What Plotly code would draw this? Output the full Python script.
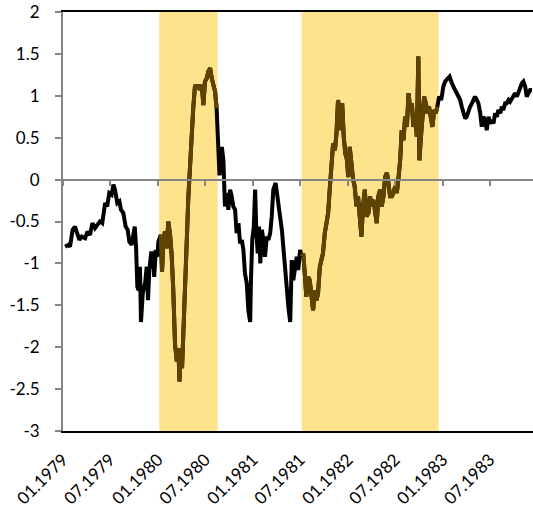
import pandas as pd
import plotly.graph_objects as go

start_date = "1979-01-01"

day_offsets = [8, 20, 27, 37, 46, 55, 63, 72, 85, 94, 104, 113, 123, 132, 142, 151, 162, 170, 178, 187,
               194, 200, 209, 217, 223, 232, 241, 249, 255, 264, 271, 276, 281, 286, 291, 296, 300, 307, 316, 322,
               327, 332, 339, 345, 351, 357, 363, 367, 376, 381, 386, 392, 399, 405, 412, 418, 424, 431, 438, 444,
               448, 453, 458, 463, 469, 476, 482, 489, 495, 501, 508, 514, 521, 527, 534, 540, 546, 553, 559, 566,
               572, 578, 585, 591, 598, 602, 611, 617, 623, 630, 636, 643, 649, 655, 662, 668, 675, 681, 688, 694,
               700, 707, 713, 720, 723, 728, 734, 739, 744, 749, 754, 759, 765, 771, 777, 784, 790, 797, 803, 809,
               818, 826, 835, 842, 848, 854, 861, 867, 874, 880, 886, 893, 899, 905, 912, 918, 924, 930, 936, 943,
               949, 955, 962, 969, 975, 981, 988, 994, 1000, 1007, 1013, 1020, 1026, 1032, 1039, 1046, 1052, 1058, 1065, 1069,
               1074, 1080, 1086, 1093, 1097, 1103, 1109, 1116, 1122, 1129, 1135, 1142, 1148, 1154, 1161, 1167, 1175, 1181, 1188, 1194,
               1201, 1207, 1213, 1220, 1226, 1233, 1239, 1246, 1252, 1258, 1265, 1271, 1278, 1284, 1290, 1297, 1303, 1310, 1316, 1323,
               1329, 1335, 1342, 1348, 1355, 1361, 1367, 1371, 1376, 1383, 1389, 1396, 1402, 1408, 1415, 1421, 1428, 1434, 1440, 1447,
               1455, 1463, 1470, 1479, 1487, 1496, 1502, 1508, 1515, 1521, 1528, 1534, 1540, 1547, 1553, 1560, 1566, 1573, 1579, 1585,
               1592, 1598, 1605, 1611, 1617, 1624, 1630, 1637, 1643, 1650, 1656, 1662, 1669, 1675, 1682, 1688, 1694, 1701, 1707, 1714,
               1720, 1727, 1733, 1739, 1746, 1752, 1759, 1765, 1771, 1778, 1784, 1791, 1797, 1804]

values = [-0.80, -0.78, -0.80, -0.60, -0.56, -0.64, -0.72, -0.68, -0.70, -0.62, -0.66, -0.52, -0.58, -0.54, -0.50, -0.52, -0.28, -0.32, -0.16, -0.18,
          -0.06, -0.12, -0.28, -0.26, -0.36, -0.40, -0.56, -0.60, -0.74, -0.78, -0.68, -0.56, -0.80, -1.28, -1.32, -1.04, -1.70, -1.35, -1.23, -1.04,
          -1.44, -1.08, -0.88, -0.88, -1.16, -0.84, -0.92, -0.74, -0.66, -1.10, -0.74, -0.62, -0.82, -0.50, -0.66, -0.90, -1.30, -1.97, -2.17, -2.01,
          -2.41, -2.09, -2.25, -1.89, -1.29, -0.74, -0.22, 0.17, 0.69, 0.85, 1.13, 1.09, 1.13, 1.07, 1.13, 0.89, 1.17, 1.21, 1.29, 1.33,
          1.21, 1.13, 1.05, 0.85, 0.40, 0.05, 0.39, 0.23, -0.32, -0.16, -0.36, -0.12, -0.20, -0.32, -0.36, -0.64, -0.52, -0.76, -0.72, -0.84,
          -1.12, -1.24, -1.56, -1.70, -1.20, -0.72, -0.56, -0.12, -0.64, -0.88, -0.56, -1.00, -0.60, -0.72, -0.92, -0.68, -0.72, -0.64, -0.44, -0.12,
          -0.04, -0.20, -0.44, -0.60, -0.84, -1.12, -1.40, -1.52, -1.70, -0.96, -1.20, -1.04, -0.92, -1.08, -0.84, -0.92, -0.88, -1.12, -1.40, -1.16,
          -1.20, -1.36, -1.56, -1.32, -1.44, -1.36, -1.04, -0.96, -0.88, -0.64, -0.52, -0.40, -0.12, 0.11, 0.43, 0.35, 0.55, 0.95, 0.79, 0.59,
          0.91, 0.51, 0.31, 0.23, 0.03, 0.39, 0.15, 0.00, -0.08, -0.32, -0.20, -0.40, -0.68, -0.32, -0.12, -0.44, -0.40, -0.20, -0.32, -0.24,
          -0.40, -0.52, -0.20, -0.12, -0.32, -0.20, 0.03, 0.08, -0.04, -0.20, -0.20, -0.16, -0.08, -0.16, 0.00, 0.23, 0.59, 0.47, 0.75, 0.63,
          1.03, 0.87, 0.91, 0.63, 0.75, 0.51, 1.47, 0.23, 0.47, 0.79, 0.99, 0.91, 0.79, 0.87, 0.71, 0.63, 0.83, 0.79, 0.87, 0.99,
          0.95, 1.11, 1.17, 1.21, 1.23, 1.15, 1.09, 1.07, 1.03, 0.99, 0.95, 0.87, 0.81, 0.73, 0.75, 0.83, 0.87, 0.91, 0.95, 0.99,
          0.95, 0.91, 0.79, 0.63, 0.75, 0.71, 0.59, 0.75, 0.67, 0.71, 0.67, 0.79, 0.75, 0.83, 0.79, 0.87, 0.83, 0.91, 0.91, 0.95,
          0.93, 0.97, 0.99, 1.03, 0.99, 1.05, 1.09, 1.15, 1.17, 1.11, 0.99, 1.03, 1.07, 1.07]

band_starts = ["1980-01-06", "1981-07-07"]
band_ends = ["1980-08-18", "1982-12-16"]

tick_dates = ["1979-01-01", "1979-07-01", "1980-01-01", "1980-07-01", "1981-01-01",
              "1981-07-01", "1982-01-01", "1982-07-01", "1983-01-01", "1983-07-01"]
tick_labels = ["01.1979", "07.1979", "01.1980", "07.1980", "01.1981",
               "07.1981", "01.1982", "07.1982", "01.1983", "07.1983"]

y_ticks = [2, 1.5, 1, 0.5, 0, -0.5, -1, -1.5, -2, -2.5, -3]
y_tick_labels = ["2", "1.5", "1", "0.5", "0", "-0.5", "-1", "-1.5", "-2", "-2.5", "-3"]

x_range = ["1979-01-01", "1983-12-14"]

dates = pd.Timestamp(start_date) + pd.to_timedelta(day_offsets, unit="D")

bs = pd.to_datetime(band_starts)
be = pd.to_datetime(band_ends)
in_band = [any((d >= s) and (d <= e) for s, e in zip(bs, be)) for d in dates]
values_band = [v if ib else None for v, ib in zip(values, in_band)]

FONT = "Lato, 'Open Sans', sans-serif"

fig = go.Figure()
fig.add_trace(go.Scatter(x=dates, y=values, mode="lines",
                         line=dict(color="black", width=4), showlegend=False, hoverinfo="skip"))
fig.add_trace(go.Scatter(x=dates, y=values_band, mode="lines",
                         line=dict(color="#5E4400", width=4), showlegend=False,
                         connectgaps=False, hoverinfo="skip"))
# carrier trace for the zero-line axis
fig.add_trace(go.Scatter(x=dates, y=values, mode="lines", xaxis="x2",
                         line=dict(color="rgba(0,0,0,0)", width=0), showlegend=False, hoverinfo="skip"))

for s, e in zip(band_starts, band_ends):
    fig.add_shape(type="rect", xref="x", yref="y", x0=s, x1=e, y0=-3, y1=2,
                  fillcolor="#FFE38C", line=dict(width=0), layer="below")

fig.update_layout(
    width=533, height=516,
    margin=dict(l=63, r=0, t=12, b=85, autoexpand=False),
    plot_bgcolor="white", paper_bgcolor="white",
    font=dict(family=FONT, size=17, color="black"),
    xaxis=dict(type="date", range=x_range, tickvals=tick_dates, ticktext=tick_labels,
               tickangle=-45, showline=True, mirror=True, linecolor="black", linewidth=2,
               ticks="", showgrid=False, zeroline=False, ticklabelstandoff=10, automargin=False,
               tickfont=dict(family=FONT, size=17, color="black")),
    xaxis2=dict(type="date", overlaying="x", matches="x", anchor="free", position=0.6,
                showline=True, linecolor="#868686", linewidth=2, ticks="outside", ticklen=5,
                tickwidth=2, tickcolor="#868686", tickvals=tick_dates, showticklabels=False,
                showgrid=False, zeroline=False, automargin=False),
    yaxis=dict(range=[-3, 2], tickvals=y_ticks, ticktext=y_tick_labels,
               showline=True, linecolor="#868686", linewidth=2, ticks="outside", ticklen=6,
               tickwidth=2, tickcolor="#868686", showgrid=False, zeroline=False, automargin=False,
               ticklabelstandoff=12, tickfont=dict(family=FONT, size=17, color="black")),
)

page_fix = ("document.documentElement.style.margin='0';"
            "document.documentElement.style.overflow='hidden';"
            "document.body.style.margin='0';"
            "document.body.style.padding='0';"
            "document.body.style.overflow='hidden';")

fig.write_html("out.html", post_script=page_fix, config={"displayModeBar": False})
